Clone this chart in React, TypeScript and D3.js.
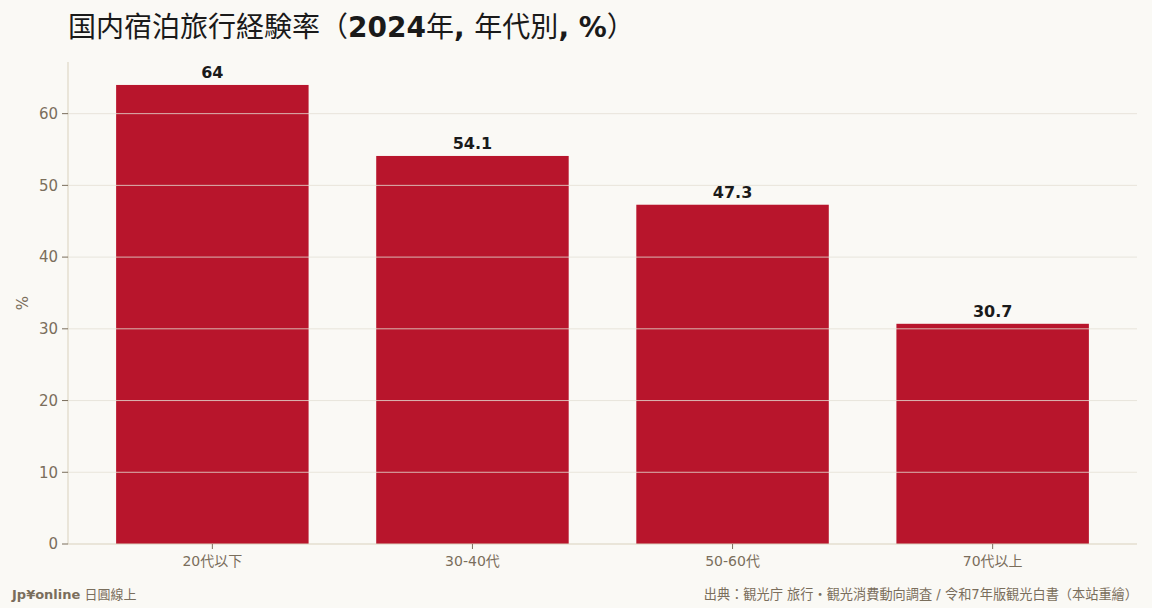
import * as d3 from 'd3';
import React from 'react';

const categories = ['20代以下', '30-40代', '50-60代', '70代以上'];
const values = [64, 54.1, 47.3, 30.7];
const yTicks = [0, 10, 20, 30, 40, 50, 60];

const W = 1152;
const H = 608;
const margin = { top: 62, right: 15, bottom: 64, left: 68 };
const BG = '#faf9f5';
const BAR = '#b8152c';
const MUTED = '#7a6e5c';
const GRID = '#e4e0d4';
const FONT = '"DejaVu Sans", "Noto Sans CJK TC", sans-serif';

export default function App() {
  const x = d3
    .scaleBand<string>()
    .domain(categories)
    .range([margin.left, W - margin.right])
    .paddingInner(0.26)
    .paddingOuter(0.185);

  const y = d3
    .scaleLinear()
    .domain([0, d3.max(values)! * 1.05])
    .range([H - margin.bottom, margin.top]);

  const data = categories.map((c, i) => ({ name: c, value: values[i] }));

  return (
    <div style={{ position: 'fixed', left: 0, top: 0, width: W, height: H, background: BG }}>
      <svg width={W} height={H} lang="zh-Hant" style={{ display: 'block', fontFamily: FONT }}>
        <rect width={W} height={H} fill={BG} />

        {/* title */}
        <text x={68} y={37} fontSize={28} fill="#1a1a1a">
          <tspan>国内宿泊旅行経験率（</tspan>
          <tspan fontWeight="bold">2024</tspan>
          <tspan>年</tspan>
          <tspan fontWeight="bold">, </tspan>
          <tspan>年代別</tspan>
          <tspan fontWeight="bold">, %</tspan>
          <tspan>）</tspan>
        </text>

        {/* bars */}
        {data.map((d) => (
          <rect
            key={d.name}
            x={x(d.name)}
            y={y(d.value)}
            width={x.bandwidth()}
            height={y(0) - y(d.value)}
            fill={BAR}
          />
        ))}

        {/* grid on top */}
        {yTicks.slice(1).map((t) => (
          <line
            key={t}
            x1={margin.left}
            x2={W - margin.right}
            y1={y(t)}
            y2={y(t)}
            stroke={GRID}
            strokeOpacity={0.8}
            strokeWidth={1}
          />
        ))}

        {/* value labels */}
        {data.map((d) => (
          <text
            key={d.name}
            x={x(d.name)! + x.bandwidth() / 2}
            y={y(d.value) - 7}
            textAnchor="middle"
            fontSize={16}
            fontWeight="bold"
            fill="#1a1a1a"
          >
            {d3.format('')(d.value)}
          </text>
        ))}

        {/* y axis */}
        <line
          x1={margin.left}
          x2={margin.left}
          y1={margin.top}
          y2={y(0)}
          stroke="#d9d1bd"
        />
        {yTicks.map((t) => (
          <g key={t} transform={`translate(0,${y(t)})`}>
            <line x1={margin.left - 6} x2={margin.left} stroke={MUTED} />
            <text
              x={margin.left - 10}
              dy="0.35em"
              textAnchor="end"
              fontSize={15}
              fill={MUTED}
            >
              {t}
            </text>
          </g>
        ))}
        <text
          transform={`translate(28,${(margin.top + y(0)) / 2}) rotate(-90)`}
          textAnchor="middle"
          fontSize={15}
          fill={MUTED}
        >
          %
        </text>

        {/* x axis */}
        <line
          x1={margin.left}
          x2={W - margin.right}
          y1={y(0)}
          y2={y(0)}
          stroke="#d9d1bd"
        />
        {categories.map((c) => (
          <g key={c} transform={`translate(${x(c)! + x.bandwidth() / 2},${y(0)})`}>
            <line y1={0} y2={5} stroke={MUTED} />
            <text y={22} textAnchor="middle" fontSize={14} fill={MUTED}>
              {c}
            </text>
          </g>
        ))}

        {/* footer */}
        <text x={12} y={599} fontSize={13} fill={MUTED}>
          <tspan fontWeight="bold">Jp¥online</tspan>
          <tspan> 日圓線上</tspan>
        </text>
        <text x={1138} y={599} textAnchor="end" fontSize={13.2} fill={MUTED}>
          出典：観光庁 旅行・観光消費動向調査 / 令和7年版観光白書（本站重繪）
        </text>
      </svg>
    </div>
  );
}
